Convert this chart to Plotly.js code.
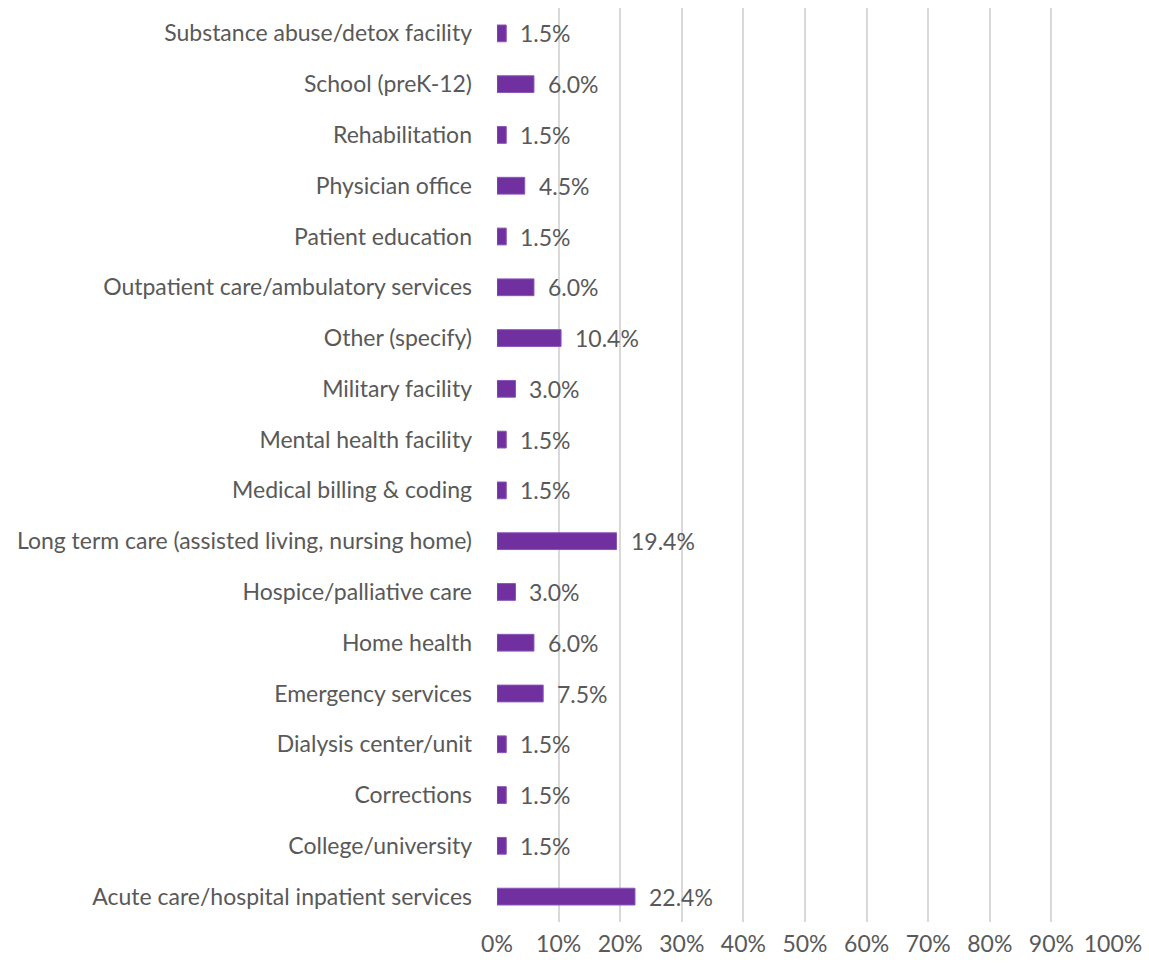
<!DOCTYPE html>
<html>
<head>
<meta charset="utf-8">
<script src="https://cdn.plot.ly/plotly-3.0.1.min.js"></script>
<style>html,body{margin:0;padding:0;background:#fff;}#chart{width:1149px;height:966px;}</style>
</head>
<body>
<div id="chart"></div>
<script>
const categories = [
  "Acute care/hospital inpatient services",
  "College/university",
  "Corrections",
  "Dialysis center/unit",
  "Emergency services",
  "Home health",
  "Hospice/palliative care",
  "Long term care (assisted living, nursing home)",
  "Medical billing & coding",
  "Mental health facility",
  "Military facility",
  "Other (specify)",
  "Outpatient care/ambulatory services",
  "Patient education",
  "Physician office",
  "Rehabilitation",
  "School (preK-12)",
  "Substance abuse/detox facility"
];
const values = [22.4, 1.5, 1.5, 1.5, 7.5, 6.0, 3.0, 19.4, 1.5, 1.5, 3.0, 10.4, 6.0, 1.5, 4.5, 1.5, 6.0, 1.5];
const tickVals = [0,10,20,30,40,50,60,70,80,90,100];
const tickText = ["0%","10%","20%","30%","40%","50%","60%","70%","80%","90%","100%"];

const fontFam = "Lato, 'Open Sans', sans-serif";
const textColor = "#595959";
const fontSize = 23;

const trace = {
  type: "bar",
  orientation: "h",
  x: values,
  y: categories,
  marker: {color: "#7030A0", line: {color: "#8a55b8", width: 1}},
  width: 0.33,
  hoverinfo: "none"
};

const annotations = values.map((v, i) => ({
  x: v, y: categories[i], xref: "x", yref: "y",
  text: v.toFixed(1) + "%",
  showarrow: false, xanchor: "left", yanchor: "middle",
  xshift: 12,
  font: {family: fontFam, size: fontSize, color: textColor}
}));

const layout = {
  width: 1149, height: 966,
  margin: {l: 497, r: 36, t: 8, b: 44, pad: 0},
  paper_bgcolor: "#fff", plot_bgcolor: "#fff",
  showlegend: false,
  bargap: 0.67,
  xaxis: {
    range: [0, 100],
    tickvals: tickVals, ticktext: tickText,
    showgrid: true, gridcolor: "#d9d9d9", gridwidth: 2,
    zeroline: false, showline: false,
    ticks: "",
    ticklabelstandoff: 6,
    tickfont: {family: fontFam, size: fontSize, color: textColor},
    fixedrange: true
  },
  yaxis: {
    type: "category",
    categoryorder: "array", categoryarray: categories,
    showgrid: false, zeroline: false, showline: false,
    ticks: "",
    ticklabelstandoff: 24,
    tickfont: {family: fontFam, size: fontSize, color: textColor},
    automargin: false,
    fixedrange: true
  },
  annotations: annotations
};

Plotly.newPlot("chart", [trace], layout, {displayModeBar: false, staticPlot: true});
</script>
</body>
</html>
